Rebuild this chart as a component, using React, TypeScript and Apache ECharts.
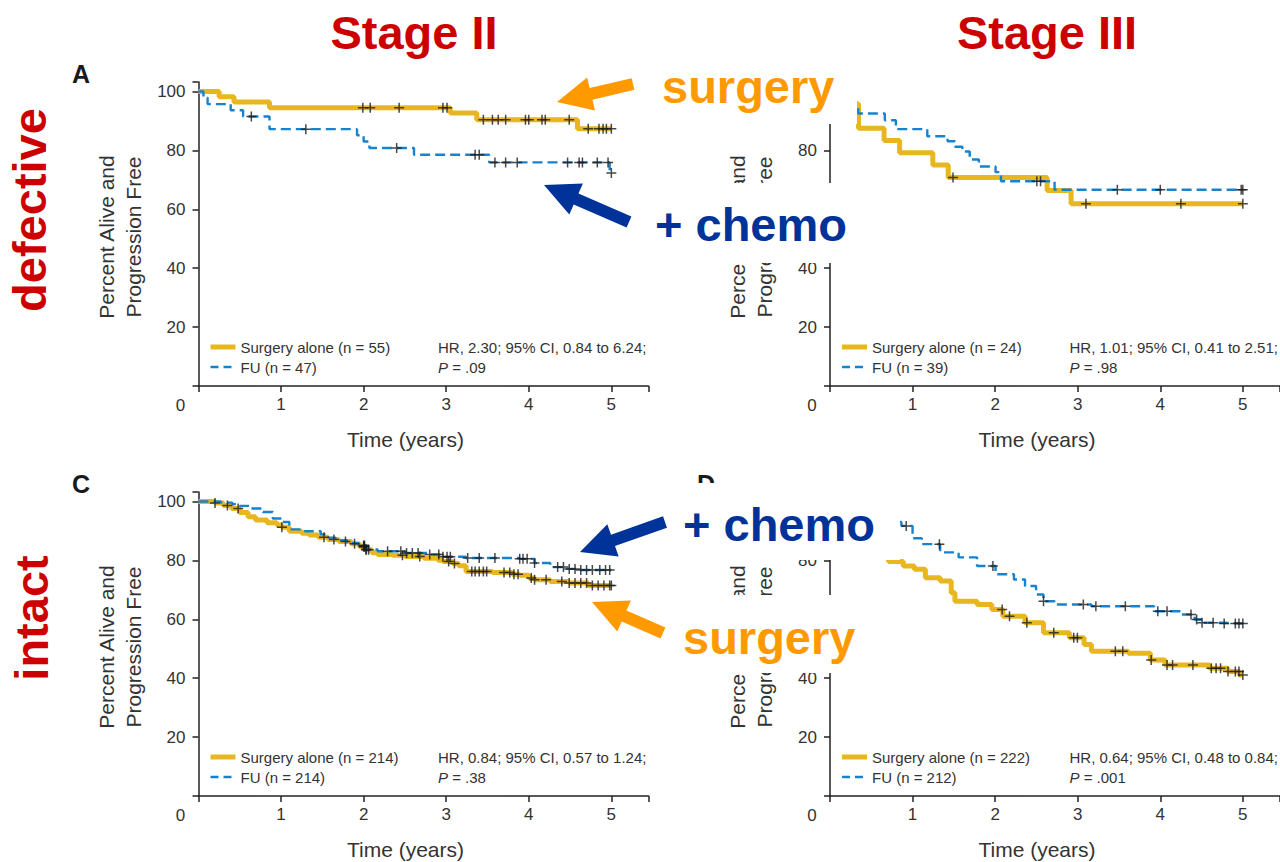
import { useEffect, useRef } from 'react';
import * as echarts from 'echarts';

type Pt = [number, number];

const FONT = "'Liberation Sans', Arial, Helvetica, sans-serif";
const SURGERY_COLOR = '#e8b71f';
const FU_COLOR = '#1683cf';
const MARK_COLOR = '#1c1c1c';
const AXIS_COLOR = '#222222';
const LABEL_COLOR = '#333333';
const RED = '#cc0000';
const ORANGE = '#ff9900';
const NAVY = '#003399';

// Tick labels
const xTickLabels = [1, 2, 3, 4, 5];
const yTickLabels = [20, 40, 60, 80, 100];
// Right-hand panels: 100 and 60 sit under the call-out labels
const yTickLabelsRight = [20, 40, 80];

// Kaplan-Meier step points: [years, percent alive and progression free]
// Stage II, MMR defective
const stageIIDefSurgery: Pt[] = [
  [0, 100], [0.25, 98.2], [0.43, 96.4], [0.86, 94.5], [3.05, 92.7], [3.37, 90.4], [4.59, 87.3], [5.0, 87.3],
];
const stageIIDefSurgeryCensored = [1.99, 2.08, 2.43, 2.96, 3.01, 3.45, 3.56, 3.63, 3.72, 3.96, 4.0, 4.16, 4.2, 4.49, 4.72, 4.85, 4.9, 4.94, 5.0];
const stageIIDefFU: Pt[] = [
  [0, 100], [0.06, 97.9], [0.11, 95.7], [0.39, 93.6], [0.54, 91.5], [0.86, 87.2], [1.92, 85.1], [2.0, 83.0],
  [2.07, 80.8], [2.61, 78.5], [3.52, 75.9], [4.98, 72.3], [5.0, 72.3],
];
const stageIIDefFUCensored = [0.64, 1.3, 2.4, 3.35, 3.4, 3.59, 3.72, 3.86, 4.47, 4.61, 4.65, 4.83, 4.96, 5.0];

// Stage III, MMR defective
const stageIIIDefSurgery: Pt[] = [
  [0, 100], [0.14, 95.8], [0.345, 87.5], [0.655, 83.3], [0.843, 79.2], [1.245, 75.0], [1.432, 70.8],
  [2.63, 66.4], [2.92, 61.9], [5.0, 61.9],
];
const stageIIIDefSurgeryCensored = [1.49, 3.1, 4.25, 5.0];
const stageIIIDefFU: Pt[] = [
  [0, 100], [0.08, 97.4], [0.14, 94.9], [0.342, 92.5], [0.664, 90.2], [0.798, 87.2], [1.178, 84.8],
  [1.424, 83.1], [1.513, 81.2], [1.603, 79.6], [1.692, 76.9], [1.803, 74.5], [2.005, 72.6], [2.071, 69.5],
  [2.72, 66.6], [5.0, 66.6],
];
const stageIIIDefFUCensored = [2.505, 2.55, 3.48, 4.0, 4.98, 5.0];

// Stage II, MMR intact
const stageIIIntSurgery: Pt[] = [
  [0, 100], [0.2, 99.5], [0.3, 98.6], [0.4, 97.6], [0.5, 96.2], [0.6, 94.8], [0.69, 93.7], [0.83, 92.8],
  [0.95, 92.0], [1.01, 91.2], [1.1, 89.9], [1.25, 89.2], [1.34, 88.6], [1.45, 87.8], [1.57, 87.1], [1.7, 86.4],
  [1.85, 85.6], [1.95, 84.6], [2.03, 83.6], [2.1, 82.6], [2.17, 82.0], [2.35, 81.7], [2.5, 81.3], [2.73, 80.7],
  [2.9, 80.0], [2.96, 79.6], [3.08, 78.9], [3.15, 78.2], [3.24, 76.2], [3.56, 75.9], [3.8, 75.3], [3.89, 74.9],
  [4.0, 74.0], [4.07, 73.4], [4.26, 72.8], [4.49, 72.3], [4.72, 71.5], [5.0, 71.5],
];
const stageIIIntSurgeryCensored = [
  0.2, 0.35, 0.48, 1.01, 1.52, 1.64, 1.78, 1.89, 2.0, 2.01, 2.03, 2.06, 2.47, 2.68, 3.03, 3.1, 3.31, 3.35, 3.4,
  3.45, 3.49, 3.7, 3.77, 3.82, 3.87, 4.03, 4.07, 4.21, 4.4, 4.49, 4.56, 4.63, 4.7, 4.77, 4.84, 4.91, 4.98, 5.0,
];
const stageIIIntFU: Pt[] = [
  [0, 100], [0.27, 99.6], [0.41, 99.1], [0.5, 98.5], [0.64, 97.6], [0.78, 96.4], [0.9, 94.2], [1.01, 93.0],
  [1.1, 90.5], [1.29, 89.9], [1.48, 88.8], [1.57, 87.7], [1.66, 86.8], [1.8, 85.8], [1.94, 85.0], [2.03, 83.7],
  [2.17, 83.1], [2.5, 82.5], [2.78, 82.0], [2.96, 81.2], [3.24, 80.8], [3.89, 80.5], [4.07, 79.1], [4.26, 77.7],
  [4.45, 77.1], [4.6, 76.7], [5.0, 76.7],
];
const stageIIIntFUCensored = [
  2.0, 2.01, 2.03, 2.29, 2.45, 2.52, 2.59, 2.66, 2.8, 2.91, 2.96, 3.01, 3.05, 3.26, 3.4, 3.59, 3.89, 3.93, 3.98,
  4.07, 4.35, 4.42, 4.49, 4.56, 4.63, 4.7, 4.77, 4.86, 4.93, 4.98,
];

// Stage III, MMR intact
const stageIIIIntSurgery: Pt[] = [
  [0, 100], [0.1, 97.3], [0.2, 94.6], [0.3, 91.5], [0.4, 88.7], [0.5, 86.6], [0.6, 84.5], [0.709, 79.6],
  [0.887, 78.1], [1.021, 77.0], [1.155, 74.1], [1.334, 73.0], [1.468, 69.0], [1.513, 66.1], [1.781, 65.0],
  [1.96, 63.3], [2.094, 61.0], [2.362, 58.8], [2.586, 55.4], [2.899, 53.7], [3.077, 51.4], [3.166, 49.1],
  [3.613, 48.5], [3.88, 46.2], [4.059, 44.5], [4.595, 43.4], [4.819, 42.3], [4.96, 41.1], [5.0, 41.1],
];
const stageIIIIntSurgeryCensored = [
  2.085, 2.174, 2.384, 2.71, 2.952, 2.996, 3.456, 3.546, 3.89, 4.082, 4.149, 4.395, 4.618, 4.676, 4.73, 4.82,
  4.909, 4.953, 5.0,
];
const stageIIIIntFU: Pt[] = [
  [0, 100], [0.2, 98.3], [0.4, 96.6], [0.6, 94.6], [0.75, 93.0], [0.865, 91.7], [1.0, 87.5], [1.111, 85.5],
  [1.334, 82.7], [1.558, 81.0], [1.781, 78.1], [2.005, 75.3], [2.228, 73.5], [2.362, 71.3], [2.496, 68.4],
  [2.586, 66.1], [2.72, 65.0], [3.166, 64.4], [3.925, 62.7], [4.239, 61.6], [4.417, 59.9], [4.506, 58.8],
  [4.7, 58.6], [5.0, 58.6],
];
const stageIIIIntFUCensored = [
  0.923, 1.325, 1.973, 2.586, 3.068, 3.22, 3.577, 3.97, 4.082, 4.372, 4.44, 4.506, 4.64, 4.774, 4.909, 4.953, 5.0,
];

// Panel layout (pixel geometry of each plot area)
const GRID_W = 450;
const GRID_H = 304;
const X_MAX = 5.45;
const Y_MAX = 103.2;

const panels = [
  {
    letter: 'A', letterX: 81, left: 198.5, top: 82, yLabels: yTickLabels,
    surgery: stageIIDefSurgery, surgeryCensored: stageIIDefSurgeryCensored,
    fu: stageIIDefFU, fuCensored: stageIIDefFUCensored,
    surgeryLabel: 'Surgery alone (n = 55)', fuLabel: 'FU (n = 47)',
    hr: 'HR, 2.30; 95% CI, 0.84 to 6.24;', p: '.09',
  },
  {
    letter: '', letterX: 712, left: 830, top: 82, yLabels: yTickLabelsRight,
    surgery: stageIIIDefSurgery, surgeryCensored: stageIIIDefSurgeryCensored,
    fu: stageIIIDefFU, fuCensored: stageIIIDefFUCensored,
    surgeryLabel: 'Surgery alone (n = 24)', fuLabel: 'FU (n = 39)',
    hr: 'HR, 1.01; 95% CI, 0.41 to 2.51;', p: '.98',
  },
  {
    letter: 'C', letterX: 81, left: 198.5, top: 492, yLabels: yTickLabels,
    surgery: stageIIIntSurgery, surgeryCensored: stageIIIntSurgeryCensored,
    fu: stageIIIntFU, fuCensored: stageIIIntFUCensored,
    surgeryLabel: 'Surgery alone (n = 214)', fuLabel: 'FU (n = 214)',
    hr: 'HR, 0.84; 95% CI, 0.57 to 1.24;', p: '.38',
  },
  {
    letter: 'D', letterX: 706, left: 830, top: 492, yLabels: yTickLabelsRight,
    surgery: stageIIIIntSurgery, surgeryCensored: stageIIIIntSurgeryCensored,
    fu: stageIIIIntFU, fuCensored: stageIIIIntFUCensored,
    surgeryLabel: 'Surgery alone (n = 222)', fuLabel: 'FU (n = 212)',
    hr: 'HR, 0.64; 95% CI, 0.48 to 0.84;', p: '.001',
  },
];

// Survival value of a step curve at time t
function valueAt(curve: Pt[], t: number): number {
  let v = curve[0][1];
  for (const [x, y] of curve) {
    if (x <= t + 1e-9) v = y;
    else break;
  }
  return v;
}

// Block arrow outline from tip to tail
function arrowPoints(tip: Pt, tail: Pt, shaft: number, head: number, headLen: number): Pt[] {
  const dx = tail[0] - tip[0];
  const dy = tail[1] - tip[1];
  const len = Math.hypot(dx, dy);
  const ux = dx / len;
  const uy = dy / len;
  const nx = -uy;
  const ny = ux;
  const bx = tip[0] + ux * headLen;
  const by = tip[1] + uy * headLen;
  return [
    tip,
    [bx + nx * head, by + ny * head],
    [bx + nx * shaft, by + ny * shaft],
    [tail[0] + nx * shaft, tail[1] + ny * shaft],
    [tail[0] - nx * shaft, tail[1] - ny * shaft],
    [bx - nx * shaft, by - ny * shaft],
    [bx - nx * head, by - ny * head],
  ];
}

const CENSOR_SYMBOL = 'path://M4.25,0H5.75V4.25H10V5.75H5.75V10H4.25V5.75H0V4.25H4.25Z';

const surgeryLine = { color: SURGERY_COLOR, width: 5 };
const fuLine = { color: FU_COLOR, width: 2.4, type: [10, 5] };

function buildOption() {
  const grid: any[] = [];
  const xAxis: any[] = [];
  const yAxis: any[] = [];
  const series: any[] = [];
  const legend: any[] = [];
  const graphic: any[] = [];

  const axisLineStyle = { color: AXIS_COLOR, width: 1.5 };

  panels.forEach((p, i) => {
    grid.push({ left: p.left, top: p.top, width: GRID_W, height: GRID_H, containLabel: false, outerBoundsMode: 'none' });
    xAxis.push({
      type: 'value', gridIndex: i, min: 0, max: X_MAX, interval: 1,
      axisLine: { show: true, onZero: false, lineStyle: axisLineStyle },
      axisTick: { show: true, length: 6, lineStyle: axisLineStyle },
      splitLine: { show: false },
      axisLabel: {
        margin: 10, fontSize: 17, color: LABEL_COLOR, fontFamily: FONT,
        formatter: (v: number) => (xTickLabels.includes(v) ? String(v) : ''),
      },
    });
    yAxis.push({
      type: 'value', gridIndex: i, min: 0, max: Y_MAX, interval: 20,
      axisLine: { show: true, onZero: false, lineStyle: axisLineStyle },
      axisTick: { show: true, length: 6, lineStyle: axisLineStyle },
      splitLine: { show: false },
      axisLabel: {
        margin: 13, fontSize: 17, color: LABEL_COLOR, fontFamily: FONT,
        formatter: (v: number) => (p.yLabels.includes(v) ? String(v) : ''),
      },
    });

    series.push({
      type: 'line', name: p.surgeryLabel, xAxisIndex: i, yAxisIndex: i,
      data: p.surgery, step: 'end', symbol: 'none', silent: true, z: 2,
      lineStyle: surgeryLine, itemStyle: { color: SURGERY_COLOR },
    });
    series.push({
      type: 'line', name: p.fuLabel, xAxisIndex: i, yAxisIndex: i,
      data: p.fu, step: 'end', symbol: 'none', silent: true, z: 3,
      lineStyle: fuLine, itemStyle: { color: FU_COLOR },
    });
    series.push({
      type: 'scatter', name: `${p.surgeryLabel} censored`, xAxisIndex: i, yAxisIndex: i,
      data: p.surgeryCensored.map((t) => [t, valueAt(p.surgery, t)]),
      symbol: CENSOR_SYMBOL, symbolSize: 10, silent: true, z: 4,
      itemStyle: { color: MARK_COLOR },
    });
    series.push({
      type: 'scatter', name: `${p.fuLabel} censored`, xAxisIndex: i, yAxisIndex: i,
      data: p.fuCensored.map((t) => [t, valueAt(p.fu, t)]),
      symbol: CENSOR_SYMBOL, symbolSize: 10, silent: true, z: 4,
      itemStyle: { color: MARK_COLOR },
    });

    legend.push({
      orient: 'vertical', left: p.left + 9.5, top: p.top + 257, padding: 0,
      itemWidth: 25, itemHeight: 16, itemGap: 4, selectedMode: false,
      itemStyle: { opacity: 0, borderWidth: 0 },
      textStyle: { fontSize: 15, color: LABEL_COLOR, fontFamily: FONT, lineHeight: 16 },
      data: [
        { name: p.surgeryLabel, lineStyle: surgeryLine, itemStyle: { opacity: 0, borderWidth: 0 } },
        { name: p.fuLabel, lineStyle: { ...fuLine, type: [8, 5] }, itemStyle: { opacity: 0, borderWidth: 0 } },
      ],
    });

    const bottom = p.top + GRID_H;
    // shared origin label
    graphic.push({
      type: 'text', x: p.left - 18, y: bottom + 19, z: 1,
      style: { text: '0', fontSize: 17, fontFamily: FONT, fill: LABEL_COLOR, align: 'center', verticalAlign: 'middle' },
    });
    // axis titles
    graphic.push({
      type: 'text', x: p.left + 207, y: bottom + 53, z: 1,
      style: { text: 'Time (years)', fontSize: 21, fontFamily: FONT, fill: LABEL_COLOR, align: 'center', verticalAlign: 'middle' },
    });
    graphic.push({
      type: 'text', x: p.left - 79, y: p.top + 155, rotation: Math.PI / 2, z: 1,
      style: {
        text: 'Percent Alive and\nProgression Free', fontSize: 21, lineHeight: 27, fontFamily: FONT,
        fill: LABEL_COLOR, align: 'center', verticalAlign: 'middle',
      },
    });
    // panel letter
    if (p.letter) {
      graphic.push({
        type: 'text', x: p.letterX, y: p.top - 8, z: 1,
        style: { text: p.letter, fontSize: 25, fontWeight: 'bold', fontFamily: FONT, fill: '#1a1a1a', align: 'center', verticalAlign: 'middle' },
      });
    }
    // hazard ratio note
    graphic.push({
      type: 'text', x: p.left + 239.5, y: p.top + 265, z: 1,
      style: { text: p.hr, fontSize: 15, fontFamily: FONT, fill: LABEL_COLOR, align: 'left', verticalAlign: 'middle' },
    });
    graphic.push({
      type: 'text', x: p.left + 239.5, y: p.top + 285, z: 1,
      style: {
        text: `{i|P} = ${p.p}`, fontSize: 15, fontFamily: FONT, fill: LABEL_COLOR, align: 'left', verticalAlign: 'middle',
        rich: { i: { fontStyle: 'italic', fontSize: 15, fontFamily: FONT, fill: LABEL_COLOR } },
      },
    });
  });

  // column and row headings
  const heading = (text: string, x: number, y: number, fill: string, rotation = 0, align = 'center') => ({
    type: 'text', x, y, rotation, z: 60,
    style: { text, fontSize: 47, fontWeight: 'bold', fontFamily: FONT, fill, align, verticalAlign: 'middle' },
  });
  graphic.push(heading('Stage II', 414, 32, RED));
  graphic.push(heading('Stage III', 1047, 32, RED));
  graphic.push(heading('defective', 29, 210, RED, Math.PI / 2));
  graphic.push(heading('intact', 31, 618, RED, Math.PI / 2));

  // white backing behind the call-out labels
  const whiteBox = (x: number, y: number, w: number, h: number) => ({
    type: 'rect', z: 50, shape: { x, y, width: w, height: h }, style: { fill: '#ffffff' },
  });
  graphic.push(whiteBox(640, 50, 217, 74));
  graphic.push(whiteBox(640, 183, 222, 80));
  graphic.push(whiteBox(668, 483, 232, 77));
  graphic.push(whiteBox(668, 595, 200, 78));

  graphic.push(heading('surgery', 662, 86, ORANGE, 0, 'left'));
  graphic.push(heading('+ chemo', 655, 224, NAVY, 0, 'left'));
  graphic.push(heading('+ chemo', 683, 524, NAVY, 0, 'left'));
  graphic.push(heading('surgery', 683, 637, ORANGE, 0, 'left'));

  const arrow = (tip: Pt, tail: Pt, fill: string) => ({
    type: 'polygon', z: 60, shape: { points: arrowPoints(tip, tail, 6, 17, 35) }, style: { fill },
  });
  graphic.push(arrow([557, 102], [633, 84], ORANGE));
  graphic.push(arrow([544, 185], [629, 222], NAVY));
  graphic.push(arrow([580, 552], [665, 522], NAVY));
  graphic.push(arrow([592, 602], [663, 633], ORANGE));

  return {
    animation: false,
    backgroundColor: '#ffffff',
    textStyle: { fontFamily: FONT },
    grid,
    xAxis,
    yAxis,
    legend,
    series,
    graphic: { elements: graphic },
  };
}

export default function App() {
  const ref = useRef<HTMLDivElement>(null);
  useEffect(() => {
    if (!ref.current) return;
    const chart = echarts.init(ref.current, undefined, { renderer: 'svg' });
    chart.setOption(buildOption() as any);
    return () => chart.dispose();
  }, []);
  return (
    <div
      ref={ref}
      style={{ position: 'absolute', left: 0, top: 0, width: 1280, height: 862, background: '#fff' }}
    />
  );
}
